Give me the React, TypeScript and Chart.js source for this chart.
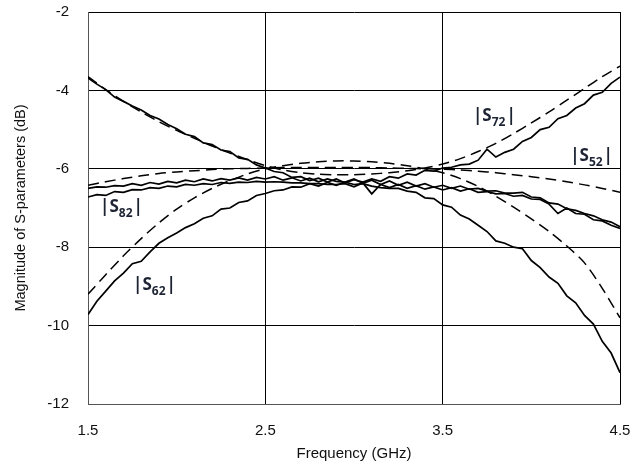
import React, { useEffect, useRef } from 'react';
import { Chart, registerables } from 'chart.js';
Chart.register(...registerables);

const freqMeas = [
  1.5, 1.55, 1.6, 1.65, 1.7, 1.75, 1.8, 1.85, 1.9, 1.95,
  2.0, 2.05, 2.1, 2.15, 2.2, 2.25, 2.3, 2.35, 2.4, 2.45,
  2.5, 2.55, 2.6, 2.65, 2.7, 2.75, 2.8, 2.85, 2.9, 2.95,
  3.0, 3.05, 3.1, 3.15, 3.2, 3.25, 3.3, 3.35, 3.4, 3.45,
  3.5, 3.55, 3.6, 3.65, 3.7, 3.75, 3.8, 3.85, 3.9, 3.95,
  4.0, 4.05, 4.1, 4.15, 4.2, 4.25, 4.3, 4.35, 4.4, 4.45, 4.5,
];

const freqSim = [
  1.5, 1.6, 1.7, 1.8, 1.9, 2.0, 2.1, 2.2, 2.3, 2.4,
  2.5, 2.6, 2.7, 2.8, 2.9, 3.0, 3.1, 3.2, 3.3, 3.4,
  3.5, 3.6, 3.7, 3.8, 3.9, 4.0, 4.1, 4.2, 4.3, 4.4, 4.5,
];

// measured (solid)
const s72Meas = [
  -3.68, -3.84, -3.98, -4.17, -4.28, -4.4, -4.5, -4.64, -4.73, -4.87,
  -4.98, -5.12, -5.18, -5.34, -5.38, -5.52, -5.56, -5.72, -5.76, -5.9,
  -5.98, -6.07, -6.1, -6.22, -6.2, -6.3, -6.24, -6.34, -6.26, -6.36,
  -6.28, -6.34, -6.26, -6.32, -6.2, -6.24, -6.13, -6.16, -6.04, -6.06,
  -5.98, -5.96, -5.9, -5.88, -5.78, -5.5, -5.7, -5.58, -5.5, -5.3,
  -5.2, -5.0, -4.94, -4.72, -4.64, -4.45, -4.34, -4.12, -4.05, -3.82, -3.66,
];
const s62Meas = [
  -9.72, -9.38, -9.12, -8.86, -8.66, -8.42, -8.36, -8.12, -7.9, -7.76,
  -7.64, -7.5, -7.4, -7.26, -7.2, -7.03, -7.0, -6.86, -6.82, -6.68,
  -6.63, -6.56, -6.54, -6.46, -6.47, -6.38, -6.44, -6.35, -6.42, -6.34,
  -6.4, -6.38, -6.44, -6.48, -6.5, -6.5, -6.57, -6.6, -6.74, -6.76,
  -6.92, -6.98, -7.18, -7.28, -7.44, -7.6, -7.84, -7.9, -8.0, -8.04,
  -8.34, -8.52, -8.76, -8.92, -9.24, -9.42, -9.74, -9.96, -10.4, -10.7, -11.2,
];
const s52Meas = [
  -6.5, -6.46, -6.47, -6.43, -6.44, -6.38, -6.42, -6.35, -6.39, -6.32,
  -6.36, -6.29, -6.33, -6.26, -6.31, -6.25, -6.29, -6.23, -6.29, -6.22,
  -6.26, -6.2, -6.29, -6.23, -6.31, -6.24, -6.33, -6.26, -6.32, -6.34,
  -6.26, -6.37, -6.29, -6.4, -6.31, -6.42, -6.34, -6.44, -6.38, -6.47,
  -6.42, -6.5, -6.44, -6.52, -6.5, -6.57, -6.56, -6.62, -6.62, -6.6,
  -6.72, -6.74, -6.87, -6.9, -7.02, -7.06, -7.14, -7.2, -7.3, -7.36, -7.48,
];
const s82Meas = [
  -6.72, -6.66, -6.68, -6.58, -6.6, -6.53, -6.54, -6.48, -6.5, -6.44,
  -6.46, -6.4, -6.42, -6.38, -6.4, -6.35, -6.37, -6.34, -6.35, -6.32,
  -6.34, -6.33, -6.34, -6.36, -6.36, -6.38, -6.38, -6.4, -6.4, -6.38,
  -6.46, -6.36, -6.64, -6.4, -6.48, -6.4, -6.5, -6.43, -6.52, -6.46,
  -6.54, -6.48, -6.57, -6.51, -6.6, -6.58, -6.64, -6.63, -6.7, -6.68,
  -6.77, -6.78, -6.9, -7.14, -7.0, -7.14, -7.16, -7.3, -7.33, -7.44, -7.52,
];

// simulated (dashed)
const s72Sim = [
  -3.65, -3.98, -4.28, -4.55, -4.8, -5.02, -5.22, -5.42, -5.6, -5.77,
  -5.92, -6.03, -6.1, -6.14, -6.15, -6.15, -6.13, -6.1, -6.05, -5.98,
  -5.88, -5.74, -5.56, -5.35, -5.1, -4.83, -4.55, -4.25, -3.95, -3.65, -3.38,
];
const s62Sim = [
  -9.2, -8.7, -8.22, -7.78, -7.38, -7.03, -6.74, -6.5, -6.3, -6.13,
  -6.0, -5.92, -5.86, -5.82, -5.8, -5.8, -5.82, -5.86, -5.92, -6.0,
  -6.1, -6.25, -6.45, -6.7, -6.98, -7.28, -7.6, -7.97, -8.4, -9.05, -9.8,
];
const s52Sim = [
  -6.42, -6.33, -6.25, -6.18, -6.12, -6.08, -6.05, -6.02, -6.0, -5.99,
  -5.98, -5.97, -5.97, -5.97, -5.97, -5.97, -5.97, -5.98, -5.99, -6.0,
  -6.01, -6.03, -6.06, -6.1, -6.15, -6.2, -6.26, -6.33, -6.41, -6.5, -6.6,
];

const xTicks = [1.5, 2.5, 3.5, 4.5];
const yTicks = [-12, -10, -8, -6, -4, -2];

const labelSubs = ['72', '52', '82', '62'];
const labelFreq = [3.671, 4.219, 1.568, 1.754];
const labelDb = [-4.78, -5.8, -7.1, -9.09];

const toPts = (xs: number[], ys: number[]) => xs.map((x, i) => ({ x, y: ys[i] }));

const labelPlugin = {
  id: 'sLabels',
  afterDatasetsDraw(chart: any) {
    const { ctx, scales } = chart;
    const xs = scales.x;
    const ys = scales.y;
    ctx.save();
    ctx.fillStyle = '#1c2333';
    ctx.textAlign = 'left';
    ctx.textBaseline = 'alphabetic';
    labelSubs.forEach((sub, i) => {
      let px = xs.getPixelForValue(labelFreq[i]);
      const py = ys.getPixelForValue(labelDb[i]);
      ctx.font = 'bold 17px "Open Sans", "DejaVu Sans", sans-serif';
      ctx.fillText('|S', px, py);
      px += ctx.measureText('|S').width;
      ctx.font = 'bold 12px "Open Sans", "DejaVu Sans", sans-serif';
      ctx.fillText(sub, px, py + 5);
      px += ctx.measureText(sub).width + 1;
      ctx.font = 'bold 17px "Open Sans", "DejaVu Sans", sans-serif';
      ctx.fillText('|', px, py);
    });
    ctx.restore();
  },
};

const tickFont = { family: '"Liberation Sans", Arial, sans-serif', size: 15 };

export default function App() {
  const ref = useRef<HTMLCanvasElement | null>(null);
  useEffect(() => {
    if (!ref.current) return;
    const solid = (data: any) => ({
      data,
      borderColor: '#000',
      borderWidth: 1.7,
      pointRadius: 0,
      fill: false,
      tension: 0,
    });
    const dashed = (data: any) => ({
      data,
      borderColor: '#000',
      borderWidth: 1.5,
      borderDash: [11, 6],
      pointRadius: 0,
      fill: false,
      tension: 0.3,
    });
    const chart = new Chart(ref.current, {
      type: 'line',
      data: {
        datasets: [
          { label: 'S72 meas', ...solid(toPts(freqMeas, s72Meas)) },
          { label: 'S62 meas', ...solid(toPts(freqMeas, s62Meas)) },
          { label: 'S52 meas', ...solid(toPts(freqMeas, s52Meas)) },
          { label: 'S82 meas', ...solid(toPts(freqMeas, s82Meas)) },
          { label: 'S72 sim', ...dashed(toPts(freqSim, s72Sim)) },
          { label: 'S62 sim', ...dashed(toPts(freqSim, s62Sim)) },
          { label: 'S52 sim', ...dashed(toPts(freqSim, s52Sim)) },
        ] as any,
      },
      options: {
        animation: false,
        responsive: false,
        maintainAspectRatio: false,
        layout: { padding: { top: 12, right: 23, left: 0, bottom: 0 } },
        plugins: { legend: { display: false }, tooltip: { enabled: false } },
        scales: {
          x: {
            type: 'linear',
            min: 1.5,
            max: 4.5,
            afterBuildTicks: (s: any) => {
              s.ticks = xTicks.map((v) => ({ value: v }));
            },
            afterFit: (s: any) => {
              s.height = 59;
            },
            grid: { color: '#000', lineWidth: 1, drawTicks: true, tickLength: 18, tickColor: 'rgba(0,0,0,0)' },
            border: { color: '#555', width: 1 },
            ticks: {
              padding: 0,
              color: '#111',
              font: tickFont,
              callback: (v: any) => Number(v).toFixed(1),
            },
            title: {
              display: true,
              text: 'Frequency (GHz)',
              color: '#111',
              font: { family: '"Liberation Sans", Arial, sans-serif', size: 15 },
              padding: { top: 0, bottom: 0 },
            },
          },
          y: {
            type: 'linear',
            min: -12,
            max: -2,
            afterBuildTicks: (s: any) => {
              s.ticks = yTicks.map((v) => ({ value: v }));
            },
            afterFit: (s: any) => {
              s.width = 88;
            },
            grid: { color: '#000', lineWidth: 1, drawTicks: true, tickLength: 19, tickColor: 'rgba(0,0,0,0)' },
            border: { color: '#555', width: 1 },
            ticks: {
              padding: 0,
              color: '#111',
              font: tickFont,
            },
            title: {
              display: true,
              text: 'Magnitude of S-parameters (dB)',
              color: '#111',
              font: { family: '"Liberation Sans", Arial, sans-serif', size: 14.5 },
              padding: { top: 12, bottom: 0 },
            },
          },
        },
      },
      plugins: [labelPlugin],
    } as any);
    return () => chart.destroy();
  }, []);
  return (
    <div style={{ position: 'fixed', left: 0, top: 0, width: 643, height: 463, background: '#fff' }}>
      <canvas ref={ref} width={643} height={463} style={{ width: 643, height: 463, display: 'block' }} />
    </div>
  );
}
